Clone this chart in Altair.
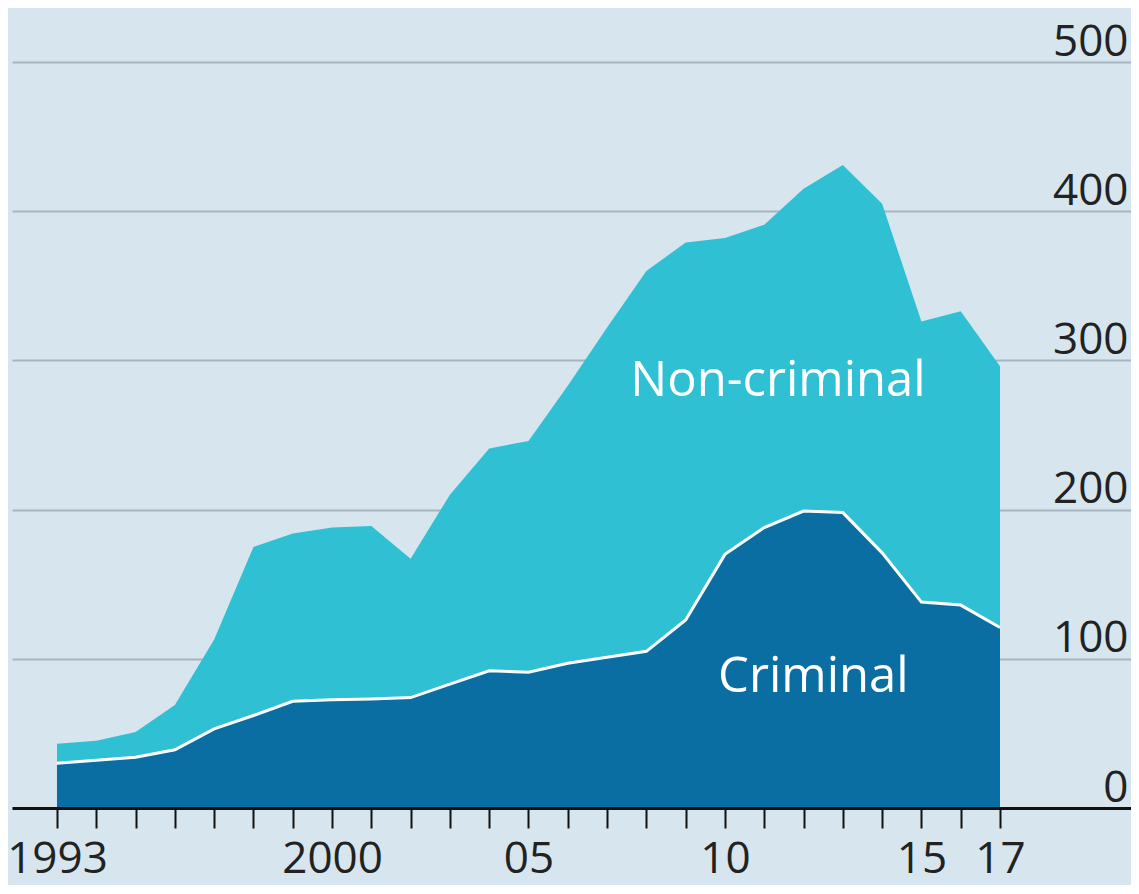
import altair as alt
import pandas as pd

years = list(range(1993, 2018))
criminal = [30, 32, 34, 39, 53, 62, 71.5, 72.5, 73, 74, 83, 92, 91, 97, 101, 105,
            126, 170, 188, 199, 198, 171, 138, 136, 121]
total = [43, 45, 51, 69, 113, 175, 184, 188, 189, 167, 210, 241, 246, 283, 322, 360,
         379, 382, 391, 415, 431, 405, 326, 333, 296]
non_criminal = [t - c for t, c in zip(total, criminal)]

label_text = ["Non-criminal", "Criminal"]
label_year = [2011.35, 2012.25]
label_value = [286, 88]

FONT = "Open Sans, sans-serif"
BG = "#d7e6ee"
CYAN = "#30c0d4"
DARK = "#0a6ea2"

df = pd.DataFrame({"year": years, "criminal": criminal, "total": total,
                   "non_criminal": non_criminal})
lab = pd.DataFrame({"text": label_text, "year": label_year, "value": label_value})

xscale = alt.Scale(domain=[1991.855, 2020.334], nice=False, zero=False)
yscale = alt.Scale(domain=[0, 500], nice=False)

label_expr = ("datum.value == 1993 ? '1993' : datum.value == 2000 ? '2000' : "
              "datum.value == 2005 ? '05' : datum.value == 2010 ? '10' : "
              "datum.value == 2015 ? '15' : datum.value == 2017 ? '17' : ''")

xaxis = alt.Axis(values=years, labelExpr=label_expr, title=None, grid=False,
                 domainColor="#111111", domainWidth=3, tickColor="#111111",
                 tickWidth=2, tickSize=20, labelFont=FONT, labelFontSize=44,
                 labelColor="#222222", labelBaseline="alphabetic", labelPadding=44,
                 labelFlush=False, labelOverlap=False, zindex=1)
yaxis = alt.Axis(orient="right", values=[0, 100, 200, 300, 400, 500], title=None,
                 domain=False, ticks=False, grid=True, gridColor="#a5b4be",
                 gridWidth=2, labelAlign="right", labelBaseline="alphabetic",
                 labelPadding=-3, labelOffset=-7, labelFont=FONT, labelFontSize=44,
                 labelColor="#222222")

base = alt.Chart(df)
area_total = base.mark_area(color=CYAN, opacity=1).encode(
    x=alt.X("year:Q", scale=xscale, axis=xaxis),
    y=alt.Y("total:Q", scale=yscale, axis=yaxis),
)
area_crim = base.mark_area(color=DARK, opacity=1).encode(
    x=alt.X("year:Q", scale=xscale),
    y=alt.Y("criminal:Q", scale=yscale),
)
line_crim = base.mark_line(color="white", strokeWidth=3).encode(
    x=alt.X("year:Q", scale=xscale),
    y=alt.Y("criminal:Q", scale=yscale),
)
texts = alt.Chart(lab).mark_text(color="white", font=FONT, fontSize=49,
                                 align="center", baseline="middle").encode(
    x=alt.X("year:Q", scale=xscale),
    y=alt.Y("value:Q", scale=yscale),
    text="text:N",
)

chart = alt.layer(area_total, area_crim, line_crim, texts).properties(
    width=1119, height=746,
    background=BG,
    padding={"left": 4, "top": 54, "right": 0, "bottom": 77},
    autosize=alt.AutoSizeParams(type="none"),
).configure_view(stroke=None, fill=BG)

chart.save("out.html", embed_options={"renderer": "svg", "actions": False})
